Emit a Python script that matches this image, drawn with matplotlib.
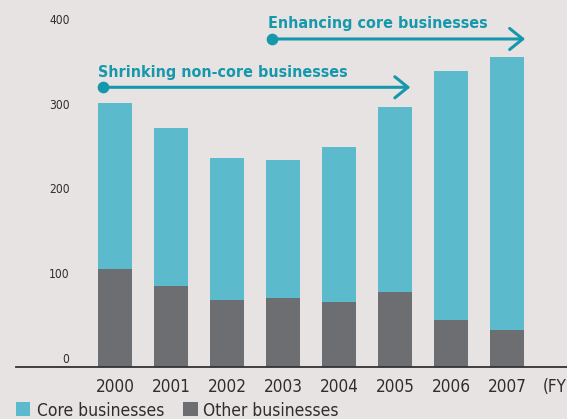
import matplotlib
matplotlib.use("Agg")
import matplotlib.pyplot as plt
from matplotlib import font_manager, transforms
from matplotlib.patches import Rectangle, FancyArrowPatch, ArrowStyle

# ---- data -------------------------------------------------------------
years = ["2000", "2001", "2002", "2003", "2004", "2005", "2006", "2007"]
other_businesses = [116, 96, 79, 82, 77, 89, 56, 44]
core_businesses = [196, 186, 168, 163, 183, 218, 294, 322]
y_ticks = [0, 100, 200, 300, 400]
y_tick_labels = ["0", "100", "200", "300", "400"]
phase_labels = ["Shrinking non-core businesses", "Enhancing core businesses"]
legend_labels = ["Core businesses", "Other businesses"]
fy_label = "(FY)"

# ---- style ------------------------------------------------------------
BG = "#e7e3e2"
CORE = "#5cbacd"
OTHER = "#6d6e71"
TEAL = "#1598ab"
DARK = "#2e2e2e"


def narrow_font(weight="normal"):
    """Return (FontProperties, cap-height ratio)."""
    for fam, stretch in [("Liberation Sans Narrow", "normal"),
                         ("DejaVu Sans", "condensed")]:
        fp = font_manager.FontProperties(family=fam, stretch=stretch, weight=weight)
        try:
            path = font_manager.findfont(fp, fallback_to_default=False)
        except Exception:
            continue
        if "Narrow" in path or "Condensed" in path:
            return fp, (0.716 if "Narrow" in path else 0.729)
    return font_manager.FontProperties(family="Roboto", weight=weight), 0.711


FP_REG, CAP_REG = narrow_font("normal")
FP_BOLD, CAP_BOLD = narrow_font("bold")

W, H, DPI = 567, 419, 100
fig = plt.figure(figsize=(W / DPI, H / DPI), dpi=DPI, facecolor=BG)

# axes placed in pixel terms: baseline at y=367.3 px, left edge 15.7 px
ax_left, ax_base = 15.7, 367.3
ax = fig.add_axes([ax_left / W, (H - ax_base) / H, (W - ax_left) / W, ax_base / H])
ax.set_facecolor(BG)
ax.set_xlim(-1.777, 8.068)
ax.set_ylim(0, 433.4)

x = list(range(len(years)))
ax.bar(x, other_businesses, width=0.6, color=OTHER, linewidth=0, zorder=2)
ax.bar(x, core_businesses, bottom=other_businesses, width=0.6, color=CORE,
       linewidth=0, zorder=2)

for s in ("left", "right", "top"):
    ax.spines[s].set_visible(False)
ax.spines["bottom"].set_color("#333333")
ax.spines["bottom"].set_linewidth(1.3)
ax.spines["bottom"].set_zorder(3)
ax.set_xticks([])
ax.set_yticks([])

fig.canvas.draw()
renderer = fig.canvas.get_renderer()
PT_PER_PX = 72.0 / DPI


def fit(t, width_px, cap_px, cap_ratio, w_weight=0.5):
    """Size text from a blend of target width and target cap height."""
    bb = t.get_window_extent(renderer)
    by_width = t.get_fontsize() * width_px / bb.width
    by_height = cap_px / cap_ratio * PT_PER_PX
    t.set_fontsize(w_weight * by_width + (1 - w_weight) * by_height)


# y tick labels, sitting slightly above their values
tick_tr = transforms.offset_copy(ax.transData, fig=fig, x=0, y=4.4, units="dots")
tick_texts = []
for v, lab in zip(y_ticks, y_tick_labels):
    t = ax.text(-0.816, v, lab, transform=tick_tr, ha="right", va="baseline",
                fontproperties=FP_REG, fontsize=9.4, color=DARK, clip_on=False)
    tick_texts.append(t)
fit(tick_texts[-1], 17.6, 9.3, CAP_REG, 0.35)
for t in tick_texts[:-1]:
    t.set_fontsize(tick_texts[-1].get_fontsize())

# year labels below the axis
year_tr = transforms.offset_copy(ax.transData, fig=fig, x=0, y=-25.1, units="dots")
year_texts = []
for xi, yr in zip(x, years):
    t = ax.text(xi, 0, yr, transform=year_tr, ha="center", va="baseline",
                fontproperties=FP_REG, fontsize=13.4, color=DARK, clip_on=False)
    year_texts.append(t)
fit(year_texts[0], 34.5, 13.3, CAP_REG, 0.4)
for t in year_texts[1:]:
    t.set_fontsize(year_texts[0].get_fontsize())
ax.text(7.634, 0, fy_label, transform=year_tr, ha="left", va="baseline",
        fontproperties=FP_REG, fontsize=year_texts[0].get_fontsize(), color=DARK,
        clip_on=False)

# phase arrows
arrow_style = ArrowStyle("->", head_length=0.94, head_width=0.76)
for (x0, x1, yv) in [(-0.223, 5.27, 330.4), (2.795, 7.32, 387.4)]:
    ax.add_patch(FancyArrowPatch((x0, yv), (x1, yv), arrowstyle=arrow_style,
                                 mutation_scale=10, lw=2.2, color=TEAL,
                                 shrinkA=0, shrinkB=0, zorder=4, clip_on=False))
    ax.plot([x0], [yv], marker="o", markersize=7.4, color=TEAL, zorder=5,
            clip_on=False)

t1 = ax.text(-0.302, 343.1, phase_labels[0], ha="left", va="baseline",
             fontproperties=FP_BOLD, fontsize=13, color=TEAL, clip_on=False)
t2 = ax.text(2.729, 400.0, phase_labels[1], ha="left", va="baseline",
             fontproperties=FP_BOLD, fontsize=13, color=TEAL, clip_on=False)
fit(t1, 247.5, 12.0, CAP_BOLD, 0.8)
t2.set_fontsize(t1.get_fontsize())


# legend drawn in pixel space
def px(xp, yp):
    return xp / W, 1 - yp / H


legend_texts = []
for (sx, tx, col, lab) in [(16.0, 36.7, CORE, legend_labels[0]),
                           (183.3, 202.7, OTHER, legend_labels[1])]:
    fig.patches.append(Rectangle(px(sx, 415.7), 14.4 / W, 14.0 / H,
                                 transform=fig.transFigure, color=col, lw=0))
    lt = fig.text(*px(tx, 415.7), lab, ha="left", va="baseline",
                  fontproperties=FP_REG, fontsize=13, color=DARK)
    legend_texts.append(lt)
fit(legend_texts[0], 127.5, 12.5, CAP_REG, 1.0)
legend_texts[1].set_fontsize(legend_texts[0].get_fontsize())

fig.savefig("out.png", dpi=DPI, facecolor=BG)
